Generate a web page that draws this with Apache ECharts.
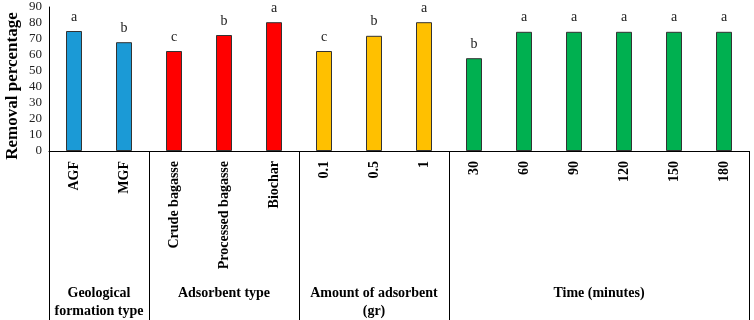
<!DOCTYPE html>
<html>
<head>
<meta charset="utf-8">
<title>Removal percentage</title>
<script src="https://cdn.jsdelivr.net/npm/echarts@6/dist/echarts.min.js"></script>
<style>
  html, body { margin: 0; padding: 0; background: #fff; }
  #main { width: 754px; height: 320px; }
</style>
</head>
<body>
<div id="main"></div>
<script>
// data
var categories = ['AGF', 'MGF', 'Crude bagasse', 'Processed bagasse', 'Biochar',
  '0.1', '0.5', '1', '30', '60', '90', '120', '150', '180'];
var values = [75, 68, 62.5, 72.5, 80.5, 62.5, 72, 80.5, 58, 74.5, 74.5, 74.5, 74.5, 74.5];
var letters = ['a', 'b', 'c', 'b', 'a', 'c', 'b', 'a', 'b', 'a', 'a', 'a', 'a', 'a'];
var groupNames = ['Geological\nformation type', 'Adsorbent type', 'Amount of adsorbent\n(gr)', 'Time (minutes)'];
var groupSizes = [2, 3, 3, 6];
var groupColors = ['#1B9AD6', '#FF0000', '#FFC000', '#00B050'];
var yTicks = { min: 0, max: 90, interval: 10 };

var serif = '"Liberation Serif", "Times New Roman", serif';

// colour of each bar from its group
var barData = [];
var k = 0;
for (var g = 0; g < groupSizes.length; g++) {
  for (var j = 0; j < groupSizes[g]; j++) {
    barData.push({
      value: values[k],
      itemStyle: { color: groupColors[g] },
      label: { formatter: letters[k] }
    });
    k++;
  }
}

var chart = echarts.init(document.getElementById('main'));
var option = {
  animation: false,
  grid: { left: 49, right: 5, top: 7, bottom: 169, containLabel: false, outerBoundsMode: 'none' },
  xAxis: {
    type: 'category',
    data: categories,
    axisLine: { lineStyle: { color: '#000', width: 1 } },
    axisTick: { show: false },
    axisLabel: {
      rotate: 90,
      interval: 0,
      margin: 10,
      fontFamily: serif,
      fontWeight: 'bold',
      fontSize: 14,
      color: '#000'
    }
  },
  yAxis: {
    type: 'value',
    min: yTicks.min,
    max: yTicks.max,
    interval: yTicks.interval,
    name: 'Removal percentage',
    nameLocation: 'middle',
    nameGap: 28,
    nameMoveOverlap: false,
    nameTextStyle: {
      fontFamily: serif, fontWeight: 'bold', fontSize: 17, color: '#000',
      padding: [0, 14, 0, 0]
    },
    axisLine: { show: true, lineStyle: { color: '#000', width: 1 } },
    axisTick: { show: false },
    splitLine: { show: false },
    axisLabel: { fontFamily: serif, fontSize: 13, color: '#222', margin: 7 }
  },
  series: [{
    type: 'bar',
    data: barData,
    barWidth: 16,
    itemStyle: { borderColor: '#333', borderWidth: 1 },
    label: {
      show: true,
      position: 'top',
      distance: 7,
      fontFamily: serif,
      fontSize: 14,
      color: '#222'
    }
  }]
};
chart.setOption(option);

// group boxes below the axis, placed with the axis scale
var c0 = chart.convertToPixel({ xAxisIndex: 0 }, 0);
var c1 = chart.convertToPixel({ xAxisIndex: 0 }, 1);
var band = c1 - c0;
var base = chart.convertToPixel({ yAxisIndex: 0 }, 0);
var bottom = 320;
var elements = [];
var start = 0;
var edges = [c0 - band / 2];
for (var g = 0; g < groupSizes.length; g++) {
  var left = c0 + (start - 0.5) * band;
  var right = c0 + (start + groupSizes[g] - 0.5) * band;
  edges.push(right);
  elements.push({
    type: 'text',
    x: (left + right) / 2,
    y: 284,
    style: {
      text: groupNames[g],
      align: 'center',
      verticalAlign: 'top',
      fontFamily: serif,
      fontWeight: 'bold',
      fontSize: 14,
      lineHeight: 18,
      fill: '#000'
    }
  });
  start += groupSizes[g];
}
for (var e = 0; e < edges.length; e++) {
  var xe = Math.round(edges[e]) + 0.5;
  if (e === edges.length - 1) xe = Math.min(xe, 750.5);
  elements.push({
    type: 'line',
    shape: { x1: xe, y1: base, x2: xe, y2: bottom },
    style: { stroke: '#000', lineWidth: 1 }
  });
}
chart.setOption({ graphic: { elements: elements } });
</script>
</body>
</html>
